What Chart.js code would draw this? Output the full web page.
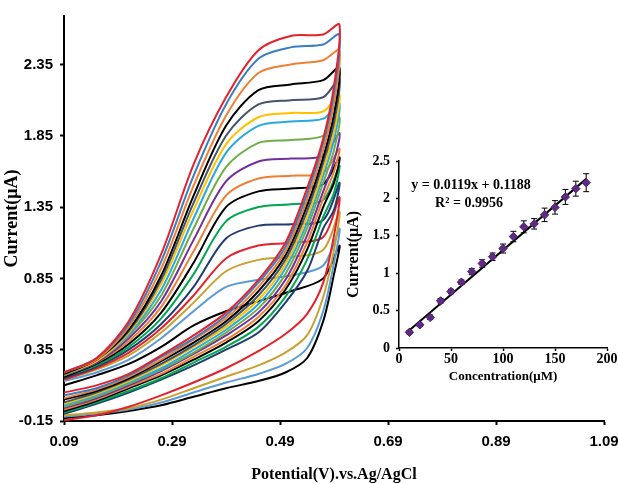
<!DOCTYPE html>
<html>
<head>
<meta charset="utf-8">
<script src="https://cdn.jsdelivr.net/npm/chart.js@4.4.1/dist/chart.umd.min.js"></script>
<style>
  html, body { margin: 0; padding: 0; background: #fff; }
  #wrap { position: relative; width: 618px; height: 484px; }
  #cv { position: absolute; left: 0; top: 0; }
  #inset { position: absolute; left: 344px; top: 140px; }
</style>
</head>
<body>
<div id="wrap">
  <canvas id="cv" width="618" height="484"></canvas>
  <canvas id="inset" width="274" height="244"></canvas>
</div>
<script>
// ---- main CV plot data (potential in V, current in uA) ----
// forward (upper) branch sampled at these potentials
const UP_V = [0.09, 0.15, 0.21, 0.27, 0.33, 0.39, 0.45, 0.51, 0.57, 0.60];
// reverse (lower) branch sampled at these potentials
const DOWN_V = [0.59, 0.57, 0.54, 0.50, 0.45, 0.39, 0.33, 0.27, 0.21, 0.15, 0.09];

// one row per voltammogram, largest first
const UPPER = [
  [0.19, 0.29, 0.55, 1.02, 1.65, 2.12, 2.45, 2.55, 2.56, 2.63],
  [0.19, 0.29, 0.53, 0.97, 1.57, 2.07, 2.39, 2.47, 2.49, 2.56],
  [0.19, 0.28, 0.51, 0.92, 1.50, 1.99, 2.29, 2.35, 2.38, 2.45],
  [0.18, 0.28, 0.49, 0.87, 1.43, 1.92, 2.17, 2.21, 2.24, 2.33],
  [0.18, 0.28, 0.48, 0.84, 1.38, 1.85, 2.07, 2.10, 2.12, 2.25],
  [0.18, 0.27, 0.47, 0.81, 1.33, 1.79, 1.98, 2.01, 2.02, 2.14],
  [0.18, 0.27, 0.46, 0.77, 1.27, 1.73, 1.92, 1.95, 1.97, 2.08],
  [0.17, 0.27, 0.45, 0.73, 1.20, 1.63, 1.80, 1.82, 1.85, 1.98],
  [0.17, 0.26, 0.43, 0.69, 1.12, 1.53, 1.67, 1.69, 1.71, 1.87],
  [0.17, 0.26, 0.41, 0.65, 1.04, 1.43, 1.55, 1.57, 1.59, 1.76],
  [0.16, 0.25, 0.39, 0.61, 0.96, 1.35, 1.46, 1.48, 1.51, 1.70],
  [0.16, 0.24, 0.37, 0.57, 0.88, 1.25, 1.35, 1.37, 1.40, 1.64],
  [0.15, 0.23, 0.35, 0.53, 0.79, 1.13, 1.22, 1.23, 1.26, 1.52],
  [0.14, 0.22, 0.33, 0.50, 0.73, 0.99, 1.08, 1.10, 1.14, 1.42],
  [0.14, 0.21, 0.31, 0.47, 0.68, 0.90, 0.98, 1.00, 1.05, 1.32],
  [0.13, 0.19, 0.28, 0.43, 0.62, 0.79, 0.84, 0.87, 0.94, 1.20],
  [0.10, 0.17, 0.25, 0.37, 0.52, 0.62, 0.69, 0.76, 0.85, 1.08]
];
const LOWER = [
  [2.20, 1.83, 1.48, 1.10, 0.84, 0.61, 0.45, 0.31, 0.18, 0.10, 0.05],
  [2.15, 1.80, 1.44, 1.07, 0.82, 0.59, 0.43, 0.30, 0.17, 0.08, 0.03],
  [2.08, 1.75, 1.40, 1.04, 0.79, 0.57, 0.42, 0.28, 0.16, 0.07, 0.01],
  [2.00, 1.70, 1.36, 1.01, 0.76, 0.55, 0.40, 0.27, 0.15, 0.06, 0.00],
  [1.94, 1.66, 1.32, 0.98, 0.73, 0.53, 0.38, 0.25, 0.14, 0.05, -0.02],
  [1.88, 1.61, 1.28, 0.95, 0.70, 0.51, 0.37, 0.24, 0.13, 0.04, -0.03],
  [1.82, 1.57, 1.24, 0.92, 0.67, 0.49, 0.35, 0.22, 0.12, 0.03, -0.04],
  [1.75, 1.52, 1.20, 0.88, 0.64, 0.47, 0.33, 0.21, 0.11, 0.02, -0.05],
  [1.67, 1.46, 1.15, 0.84, 0.61, 0.45, 0.32, 0.20, 0.10, 0.01, -0.06],
  [1.60, 1.41, 1.10, 0.80, 0.58, 0.42, 0.30, 0.18, 0.09, 0.00, -0.07],
  [1.52, 1.35, 1.05, 0.77, 0.55, 0.40, 0.28, 0.17, 0.08, -0.01, -0.08],
  [1.45, 1.28, 0.98, 0.72, 0.51, 0.37, 0.26, 0.15, 0.06, -0.02, -0.09],
  [1.33, 1.20, 0.90, 0.68, 0.47, 0.35, 0.24, 0.14, 0.05, -0.03, -0.10],
  [1.15, 0.82, 0.60, 0.46, 0.34, 0.22, 0.12, 0.03, -0.05, -0.11, -0.145],
  [1.05, 0.72, 0.45, 0.33, 0.24, 0.16, 0.08, 0.00, -0.06, -0.09, -0.11],
  [0.96, 0.62, 0.36, 0.25, 0.18, 0.12, 0.05, -0.02, -0.07, -0.10, -0.12],
  [0.88, 0.55, 0.29, 0.19, 0.13, 0.08, 0.02, -0.04, -0.08, -0.11, -0.13]
];
const COLORS = [
  '#E3232B', '#3C7DC3', '#EE8035', '#000000', '#44546A', '#FFC000',
  '#27A9E1', '#70AD47', '#7030A0', '#EE8035', '#000000', '#00A650',
  '#203C72', '#E3232B', '#C8A230', '#5B9BD5', '#000000'
];
const X_TICKS = [0.09, 0.29, 0.49, 0.69, 0.89, 1.09];
const Y_TICKS = [-0.15, 0.35, 0.85, 1.35, 1.85, 2.35];

// ---- inset calibration data ----
const CONC = [10, 20, 30, 40, 50, 60, 70, 80, 90, 100, 110, 120, 130, 140, 150, 160, 170, 180];
const CURR = [0.21, 0.31, 0.41, 0.63, 0.755, 0.88, 1.02, 1.13, 1.22, 1.33, 1.49, 1.62, 1.66, 1.78, 1.88, 2.02, 2.13, 2.21];
const ERR  = [0.02, 0.02, 0.03, 0.03, 0.03, 0.03, 0.04, 0.05, 0.05, 0.06, 0.07, 0.08, 0.07, 0.09, 0.09, 0.10, 0.10, 0.12];
const FIT_X = [10, 180];
const FIT_Y = [0.238, 2.261];

const SANS = '"Liberation Sans Narrow", "Liberation Sans", Arial, sans-serif';
const SERIF = '"Liberation Serif", "Times New Roman", serif';

const loops = UPPER.map((up, k) => ({
  data: UP_V.map((v, i) => ({ x: v, y: up[i] }))
    .concat(DOWN_V.map((v, i) => ({ x: v, y: LOWER[k][i] }))),
  showLine: true,
  borderColor: COLORS[k],
  borderWidth: 2,
  pointRadius: 0,
  tension: 0.3,
  fill: false
}));

new Chart(document.getElementById('cv'), {
  type: 'scatter',
  data: { datasets: loops },
  options: {
    responsive: false,
    animation: false,
    devicePixelRatio: 1,
    layout: { padding: { top: 14, right: 14, left: 0, bottom: 0 } },
    plugins: { legend: { display: false }, tooltip: { enabled: false } },
    scales: {
      x: {
        type: 'linear', min: 0.09, max: 1.09,
        afterBuildTicks: s => { s.ticks = X_TICKS.map(v => ({ value: v })); },
        afterFit: s => { s.height = 63; s.paddingRight = 0; s.paddingLeft = 0; },
        ticks: { callback: v => v.toFixed(2), font: { family: SANS, size: 15, weight: 'bold' },
                 color: '#000', padding: 8, maxRotation: 0, autoSkip: false },
        grid: { drawOnChartArea: false, tickLength: 4, tickColor: '#000', tickWidth: 2 },
        border: { color: '#000', width: 2 },
        title: { display: true, text: 'Potential(V).vs.Ag/AgCl', color: '#000',
                 font: { family: SERIF, size: 16, weight: 'bold' }, padding: { top: 0, bottom: 0 } }
      },
      y: {
        type: 'linear', min: -0.15, max: 2.69,
        afterBuildTicks: s => { s.ticks = Y_TICKS.map(v => ({ value: v })); },
        afterFit: s => { s.width = 64; },
        ticks: { callback: v => v.toFixed(2), font: { family: SANS, size: 15, weight: 'bold' },
                 color: '#000', padding: 7, autoSkip: false },
        grid: { drawOnChartArea: false, tickLength: 4, tickColor: '#000', tickWidth: 2 },
        border: { color: '#000', width: 2 },
        title: { display: true, text: 'Current(μA)', color: '#000',
                 font: { family: SERIF, size: 18, weight: 'bold' }, padding: { top: 2, bottom: 0 } }
      }
    }
  }
});

// error bars drawn through the inset's own scales
const errorBars = {
  id: 'errorBars',
  beforeDatasetsDraw(chart) {
    const { ctx, scales: { x, y } } = chart;
    ctx.save();
    ctx.strokeStyle = '#000';
    ctx.lineWidth = 1;
    CONC.forEach((c, i) => {
      const px = x.getPixelForValue(c);
      const top = y.getPixelForValue(CURR[i] + ERR[i]);
      const bot = y.getPixelForValue(CURR[i] - ERR[i]);
      ctx.beginPath();
      ctx.moveTo(px, top); ctx.lineTo(px, bot);
      ctx.moveTo(px - 3, top); ctx.lineTo(px + 3, top);
      ctx.moveTo(px - 3, bot); ctx.lineTo(px + 3, bot);
      ctx.stroke();
    });
    ctx.restore();
  }
};

const equation = {
  id: 'equation',
  afterDraw(chart) {
    const { ctx, chartArea } = chart;
    ctx.save();
    ctx.fillStyle = '#000';
    ctx.font = 'bold 14px ' + SERIF;
    ctx.textAlign = 'center';
    ctx.textBaseline = 'middle';
    ctx.fillText('y = 0.0119x + 0.1188', chartArea.left + 72, chartArea.top + 24);
    ctx.fillText('R² = 0.9956', chartArea.left + 70, chartArea.top + 42);
    ctx.restore();
  }
};

const insetTickFont = { family: SERIF, size: 14, weight: 'bold' };

new Chart(document.getElementById('inset'), {
  type: 'scatter',
  data: {
    datasets: [
      {
        data: CONC.map((c, i) => ({ x: c, y: CURR[i] })),
        pointStyle: 'rectRot', pointRadius: 4.2,
        backgroundColor: '#5E2A84', borderColor: '#4A1F6C', borderWidth: 1
      },
      {
        data: FIT_X.map((x, i) => ({ x: x, y: FIT_Y[i] })),
        showLine: true, borderColor: '#000', borderWidth: 2, pointRadius: 0
      }
    ]
  },
  options: {
    responsive: false,
    animation: false,
    devicePixelRatio: 1,
    layout: { padding: { top: 21, right: 11, left: 0, bottom: 0 } },
    plugins: { legend: { display: false }, tooltip: { enabled: false } },
    scales: {
      x: {
        type: 'linear', min: 0, max: 200,
        afterFit: s => { s.height = 36; s.paddingRight = 0; },
        ticks: { stepSize: 50, font: insetTickFont, color: '#000', padding: 0, maxRotation: 0 },
        grid: { drawOnChartArea: false, tickLength: 3, tickColor: '#000', tickWidth: 1.5 },
        border: { color: '#000', width: 1.5 },
        title: { display: true, text: 'Concentration(μM)', color: '#000',
                 font: { family: SERIF, size: 13, weight: 'bold' }, padding: { top: 0, bottom: 0 } }
      },
      y: {
        type: 'linear', min: 0, max: 2.5,
        afterFit: s => { s.width = 55; },
        ticks: { stepSize: 0.5, callback: v => String(+v.toFixed(1)), font: insetTickFont,
                 color: '#000', padding: 6 },
        grid: { drawOnChartArea: false, tickLength: 3, tickColor: '#000', tickWidth: 1.5 },
        border: { color: '#000', width: 1.5 },
        title: { display: true, text: 'Current(μA)', color: '#000',
                 font: { family: SERIF, size: 16, weight: 'bold' }, padding: { top: 0, bottom: 0 } }
      }
    }
  },
  plugins: [errorBars, equation]
});
</script>
</body>
</html>
